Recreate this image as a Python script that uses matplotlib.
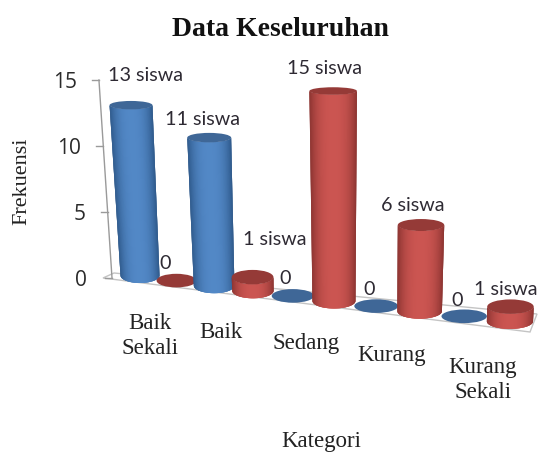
import numpy as np
import matplotlib
matplotlib.use("Agg")
import matplotlib.pyplot as plt
from matplotlib.collections import PolyCollection
from matplotlib.patches import Ellipse, Polygon

categories = ["Baik\nSekali", "Baik", "Sedang", "Kurang", "Kurang\nSekali"]
blue_values = [13, 11, 0, 0, 0]
red_values = [0, 1, 15, 6, 1]
blue_labels = ["13 siswa", "11 siswa", "0", "0", "0"]
red_labels = ["0", "1 siswa", "15 siswa", "6 siswa", "1 siswa"]
y_ticks = [0, 5, 10, 15]

BLUE = {"mid": "#5288c6", "edge": "#2f5a8c", "top": "#3f6797"}
RED = {"mid": "#cb5551", "edge": "#8d3532", "top": "#953a37"}
TEXT = "#2e2a33"

# label offsets from the top of each cylinder, slot order
blue_off = [(15, -31), (-7, -19), (-8, -18), (-7, -18), (-7, -17)]
red_off = [(-11, -18), (22, -39), (-9, -24), (-8, -21), (-5, -18)]
# category label centres
cat_pos = [(150, 336), (221, 333), (306, 344), (392, 356), (483, 380)]


# hand made perspective, pixel space
def base_x(slot):
    return 140 + 35.9 * slot + 0.578 * slot ** 2


def base_y(slot):
    return 276.5 + 5.1 * slot


def project(slot, v):
    x0 = base_x(slot)
    lean = (x0 - 350) * 0.0033
    return x0 + lean * v, base_y(slot) - (13.1 + 0.18 * slot) * v


def radius(slot, v):
    return 19.5 + 0.4 * slot + 0.15 * v, 7.5 - 0.25 * v


def mix(a, b, t):
    ca = np.array(matplotlib.colors.to_rgb(a))
    cb = np.array(matplotlib.colors.to_rgb(b))
    return tuple(ca + (cb - ca) * t)


def cylinder(ax, slot, v, col, z):
    xb, yb = project(slot, 0)
    rxb, ryb = radius(slot, 0)
    if v == 0:
        ax.add_patch(Ellipse((xb, yb), 2 * rxb, 2 * 6.8, fc=col["top"], ec="none", zorder=z))
        return
    xt, yt = project(slot, v)
    rxt, ryt = radius(slot, v)
    th = np.linspace(np.pi, 0, 61)
    quads = []
    cols = []
    # each strip runs under the next one, so no seams show
    for k in range(len(th) - 1):
        a = th[k]
        b = th[min(k + 3, len(th) - 1)]
        quads.append([(xb + rxb * np.cos(a), yb + ryb * np.sin(a)),
                      (xb + rxb * np.cos(b), yb + ryb * np.sin(b)),
                      (xt + rxt * np.cos(b), yt + ryt * np.sin(b)),
                      (xt + rxt * np.cos(a), yt + ryt * np.sin(a))])
        t = abs(np.cos((th[k] + th[k + 1]) / 2))
        cols.append(mix(col["mid"], col["edge"], t ** 2.6))
    ax.add_collection(PolyCollection(quads, facecolors=cols, edgecolors="none", zorder=z))
    ax.add_patch(Ellipse((xt, yt), 2 * rxt, 2 * ryt, fc=col["top"], ec="none", zorder=z + 0.1))


fig = plt.figure(figsize=(5.39, 4.56), dpi=100)
ax = fig.add_axes([0, 0, 1, 1])
ax.set_xlim(0, 539)
ax.set_ylim(456, 0)
ax.axis("off")

# floor
ax.add_patch(Polygon([(103, 279), (114, 274), (537, 315), (530, 333)], fc="white", ec="#c4c4c4", lw=1, zorder=1))

# value axis
ax.plot([112 - 0.87 * y_ticks[0], 112 - 0.87 * y_ticks[-1]],
        [279 - 13.2 * y_ticks[0], 279 - 13.2 * y_ticks[-1]], color="#9a9a9a", lw=1, zorder=1)
for v in y_ticks:
    ax_x = 112 - 0.87 * v
    ax_y = 279 - 13.2 * v
    ax.plot([ax_x - 7, ax_x], [ax_y, ax_y], color="#9a9a9a", lw=1, zorder=1)
    ax.text(ax_x - 22 - (0 if v else 3), ax_y + 2, str(v), ha="right", va="center", fontsize=15,
            family="Open Sans", color="#2b2b2b")

for i in range(5):
    cylinder(ax, 2 * i, blue_values[i], BLUE, 2 + 2 * i)
    cylinder(ax, 2 * i + 1, red_values[i], RED, 3 + 2 * i)

for i in range(5):
    for slot, v, s, off in [(2 * i, blue_values[i], blue_labels[i], blue_off[i]),
                            (2 * i + 1, red_values[i], red_labels[i], red_off[i])]:
        x, y = project(slot, v)
        ax.text(x + off[0], y + off[1], s, ha="center", va="center", fontsize=14.2,
                family="Lato", color=TEXT, zorder=30)

for c, p in zip(categories, cat_pos):
    ax.text(p[0], p[1], c, ha="center", va="center", fontsize=16.5, family="Liberation Serif",
            color="#222222", linespacing=1.3)

ax.text(280, 29, "Data Keseluruhan", ha="center", va="center", fontsize=20, fontweight="bold",
        family="Liberation Serif", color="#111111")
ax.text(321, 442, "Kategori", ha="center", va="center", fontsize=16.5, family="Liberation Serif", color="#222222")
ax.text(22, 181, "Frekuensi", ha="center", va="center", rotation=90, fontsize=16,
        family="Liberation Serif", color="#222222")

fig.savefig("out.png", dpi=100)
